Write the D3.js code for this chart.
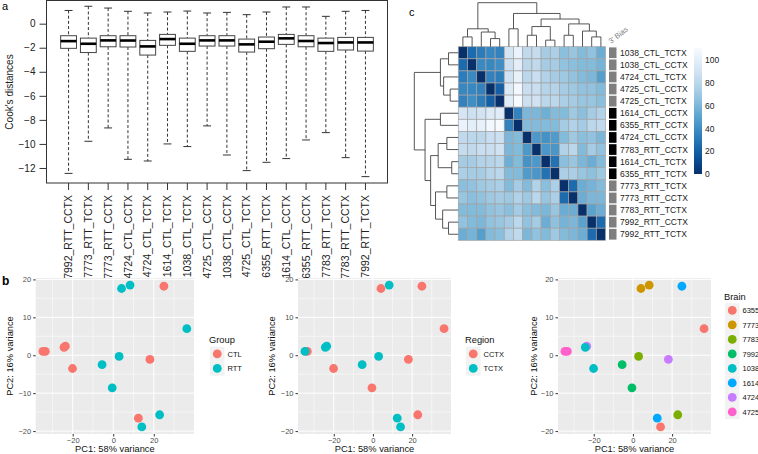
<!DOCTYPE html>
<html><head><meta charset="utf-8">
<script src="https://cdn.jsdelivr.net/npm/d3@7"></script>
<style>body{margin:0;background:#fff} svg{display:block}</style>
</head><body><svg id="c" width="758" height="454"></svg>
<script>
// ---------------- DATA ----------------
// Panel a: Cook's distances box plots (log scale values)
const boxSamples = ["7992_RTT_CCTX","7773_RTT_TCTX","7773_RTT_CCTX","4724_CTL_CCTX","4724_CTL_TCTX","1614_CTL_TCTX","1038_CTL_TCTX","4725_CTL_CCTX","1038_CTL_CCTX","4725_CTL_TCTX","6355_RTT_TCTX","1614_CTL_CCTX","6355_RTT_CCTX","7783_RTT_TCTX","7783_RTT_CCTX","7992_RTT_TCTX"];
const boxUpper  = [1.10,1.45,1.30,1.03,0.89,0.97,1.05,0.89,0.94,0.75,0.97,1.39,1.39,0.61,1.03,1.10];
const boxQ3     = [-1.00,-1.20,-1.00,-1.00,-1.39,-0.89,-1.20,-1.00,-1.00,-1.28,-1.11,-0.89,-1.00,-1.20,-1.14,-1.14];
const boxMedian = [-1.45,-1.67,-1.39,-1.40,-1.89,-1.28,-1.67,-1.39,-1.39,-1.72,-1.50,-1.22,-1.44,-1.61,-1.56,-1.56];
const boxQ1     = [-2.05,-2.40,-1.92,-1.94,-2.61,-1.80,-2.30,-1.86,-1.86,-2.36,-2.08,-1.72,-1.92,-2.30,-2.19,-2.28];
const boxLower  = [-12.45,-9.78,-8.67,-11.28,-11.42,-10.00,-10.22,-8.50,-10.92,-12.22,-11.53,-11.22,-9.67,-9.06,-11.14,-12.72];
const yTicksA = [0,-2,-4,-6,-8,-10,-12];

// Panel c: sample distance heatmap
const heatSamples = ["1038_CTL_TCTX","1038_CTL_CCTX","4724_CTL_TCTX","4725_CTL_CCTX","4725_CTL_TCTX","1614_CTL_CCTX","6355_RTT_CCTX","4724_CTL_CCTX","7783_RTT_CCTX","1614_CTL_TCTX","6355_RTT_TCTX","7773_RTT_TCTX","7773_RTT_CCTX","7783_RTT_TCTX","7992_RTT_CCTX","7992_RTT_TCTX"];
const heatBias = ["mid","mid","mid","mid","mid","high","high","high","high","high","high","mid","mid","mid","mid","mid"];
const distMatrix = [
 [0,25,32,37,35,92,104,82,84,72,74,64,68,62,66,55],
 [25,0,38,37,40,88,100,80,82,72,72,66,64,62,62,58],
 [32,38,0,35,33,90,102,80,86,76,72,70,66,62,60,48],
 [37,37,35,0,20,96,108,86,86,78,78,72,70,66,66,62],
 [35,40,33,20,0,98,111,88,90,80,80,74,72,68,68,64],
 [92,88,90,96,98,0,35,60,60,56,62,62,70,64,72,76],
 [104,100,102,108,111,35,0,62,62,62,62,72,76,72,80,82],
 [82,80,80,86,88,60,62,0,45,42,46,62,70,64,66,60],
 [84,82,86,86,90,60,62,45,0,45,44,76,80,62,72,66],
 [72,72,76,78,80,56,62,42,45,0,28,64,68,60,55,62],
 [74,72,72,78,80,62,62,46,44,28,0,74,74,68,65,70],
 [64,66,70,72,74,62,72,62,76,64,74,0,25,55,58,62],
 [68,64,66,70,72,70,76,70,80,68,74,25,0,55,60,60],
 [62,62,62,66,68,64,72,64,62,60,68,55,55,0,50,55],
 [66,62,60,66,68,72,80,66,72,55,65,58,60,50,0,25],
 [55,58,48,62,64,76,82,60,66,62,70,62,60,55,25,0]
];
// hierarchical clustering merges (negative = leaf index, 1-based in heatmap order; positive = earlier merge), height
const treeMerges = [
 [-4,-5,8.3],[-1,-2,10],[-3,1,15],[2,3,18.3],
 [-10,-11,6.7],[-8,-9,11.7],[6,5,20.6],
 [-12,-13,11.7],[-15,-16,10],[-14,9,16],[8,10,23.3],
 [7,11,28.3],[-6,-7,18.3],[13,12,34],[4,14,45]
];
const legendTicks = [0,20,40,60,80,100];

// Panel b: PCA
const pcaSamples = ["1038_CTL_CCTX","4724_CTL_TCTX","1038_CTL_TCTX","4724_CTL_CCTX","1614_CTL_CCTX","1614_CTL_TCTX","4725_CTL_CCTX","4725_CTL_TCTX","6355_RTT_CCTX","6355_RTT_TCTX","7773_RTT_CCTX","7773_RTT_TCTX","7783_RTT_CCTX","7783_RTT_TCTX","7992_RTT_CCTX","7992_RTT_TCTX"];
const pcaPC1 = [-20.1,-23.6,-24.3,18.1,25.0,12.4,-33.5,-34.7,36.3,14.1,4.1,8.3,22.9,2.9,-0.5,-5.5];
const pcaPC2 = [-3.5,2.4,2.1,-1.1,18.2,-16.6,1.0,1.0,7.0,-18.9,17.6,18.5,-15.7,-0.3,-8.6,-2.5];
const groupLevels = ["CTL","RTT"];
const regionLevels = ["CCTX","TCTX"];
const brainLevels = ["6355","7773","7783","7992","1038","1614","4724","4725"];
const twoColors = ["#F8766D","#00BFC4"];
const brainColors = ["#F8766D","#CD9600","#7CAE00","#00BE67","#00BFC4","#00A9FF","#C77CFF","#FF61CC"];
const pcaXTicks = [-20,0,20], pcaXMinor = [-30,-10,10,30];
const pcaYTicks = [-20,-10,0,10,20], pcaYMinor = [-15,-5,5,15];

// ---------------- DRAW ----------------
const FONT = '"Liberation Sans", Arial, Helvetica, sans-serif';
const svg = d3.select("#c").style("font-family", FONT);

// panel labels
svg.append("text").attr("x",2).attr("y",10).attr("font-size",11).text("a");
svg.append("text").attr("x",2).attr("y",285).attr("font-size",12).attr("font-weight","bold").text("b");
svg.append("text").attr("x",409).attr("y",16).attr("font-size",11).text("c");

// ---- Panel a ----
(function(){
  const xA = d3.scaleLinear().domain([-0.14, 17.14]).range([46, 388]);
  const yA = d3.scaleLinear().domain([-13.25, 1.97]).range([183, 0]);
  const g = svg.append("g");
  const step = xA(1)-xA(0), hw = 0.4*step, sw = 0.2*step;
  boxSamples.forEach((s,i)=>{
    const cx = xA(i+1);
    const dash = "3,2.2";
    g.append("line").attr("x1",cx).attr("x2",cx).attr("y1",yA(boxUpper[i])).attr("y2",yA(boxQ3[i])).attr("stroke","#333").attr("stroke-dasharray",dash);
    g.append("line").attr("x1",cx).attr("x2",cx).attr("y1",yA(boxQ1[i])).attr("y2",yA(boxLower[i])).attr("stroke","#333").attr("stroke-dasharray",dash);
    g.append("line").attr("x1",cx-sw).attr("x2",cx+sw).attr("y1",yA(boxUpper[i])).attr("y2",yA(boxUpper[i])).attr("stroke","#333");
    g.append("line").attr("x1",cx-sw).attr("x2",cx+sw).attr("y1",yA(boxLower[i])).attr("y2",yA(boxLower[i])).attr("stroke","#333");
    g.append("rect").attr("x",cx-hw).attr("y",yA(boxQ3[i])).attr("width",2*hw).attr("height",yA(boxQ1[i])-yA(boxQ3[i])).attr("fill","#fff").attr("stroke","#444");
    g.append("line").attr("x1",cx-hw).attr("x2",cx+hw).attr("y1",yA(boxMedian[i])).attr("y2",yA(boxMedian[i])).attr("stroke","#000").attr("stroke-width",2.6);
  });
  g.append("rect").attr("x",46.5).attr("y",0.5).attr("width",341).attr("height",182.5).attr("fill","none").attr("stroke","#333");
  const ay = g.append("g").attr("transform","translate(46.5,0)").call(d3.axisLeft(yA).tickValues(yTicksA).tickSize(7).tickPadding(4));
  ay.select(".domain").remove();
  ay.selectAll("line").attr("stroke","#333");
  ay.selectAll("text").attr("font-size",10).attr("font-family",FONT).attr("fill","#222");
  const ax = g.append("g").attr("transform","translate(0,183)");
  boxSamples.forEach((s,i)=>{
    const cx = xA(i+1);
    ax.append("line").attr("x1",cx).attr("x2",cx).attr("y1",0).attr("y2",7).attr("stroke","#333");
    ax.append("text").attr("transform",`translate(${cx},${12}) rotate(-90)`).attr("dy","0.35em").attr("text-anchor","end").attr("font-size",10.5).attr("fill","#222").text(s);
  });
  g.append("text").attr("transform","translate(12.5,92) rotate(-90)").attr("text-anchor","middle").attr("font-size",10).attr("fill","#222").text("Cook's distances");
})();

// ---- Panel c ----
(function(){
  const n = heatSamples.length;
  const left = 458.3, top = 46.7, cw = 9.2, ch = 12.1;
  const xH = d3.scaleLinear().domain([0,n]).range([left, left+n*cw]);
  const yH = d3.scaleLinear().domain([0,n]).range([top, top+n*ch]);
  const maxD = d3.max(distMatrix.flat());
  const color = d3.scaleSequential(t=>d3.interpolateBlues(1-t)).domain([0, maxD]);
  const g = svg.append("g");
  distMatrix.forEach((row,r)=>row.forEach((v,c)=>{
    g.append("rect").attr("x",xH(c)).attr("y",yH(r)).attr("width",cw).attr("height",ch)
      .attr("fill",color(v)).attr("stroke","#a3a3a3").attr("stroke-width",0.7);
  }));
  // annotation column
  const biasColor = {mid:"#7f7f7f", high:"#000000"};
  heatBias.forEach((b,r)=>{
    g.append("rect").attr("x",609).attr("y",yH(r)+0.7).attr("width",7.5).attr("height",ch-1.4).attr("fill",biasColor[b]);
  });
  g.append("text").attr("transform","translate(611,44) rotate(-38)").attr("font-size",7.5).attr("fill","#808080").text("3' Bias");
  heatSamples.forEach((s,r)=>{
    g.append("text").attr("x",620).attr("y",yH(r+0.5)).attr("dy","0.35em").attr("font-size",8.5).attr("fill","#222").text(s);
  });
  // dendrograms
  const hScale = d3.scaleLinear().domain([0,45]).range([0,44]);
  const nodes = [];
  const info = id => id<0 ? {p:-id-1, h:0} : nodes[id-1];
  treeMerges.forEach(([a,b,h])=>{ const A=info(a), B=info(b); nodes.push({p:(A.p+B.p)/2, h, A, B}); });
  const dg = g.append("g").attr("fill","none").attr("stroke","#444").attr("stroke-width",0.9);
  nodes.forEach(nd=>{
    const cA = xH(nd.A.p+0.5), cB = xH(nd.B.p+0.5);
    const yN = top - hScale(nd.h);
    dg.append("path").attr("d",`M${cA},${top-hScale(nd.A.h)}V${yN}H${cB}V${top-hScale(nd.B.h)}`);
    const rA = yH(nd.A.p+0.5), rB = yH(nd.B.p+0.5);
    const xN = left - hScale(nd.h);
    dg.append("path").attr("d",`M${left-hScale(nd.A.h)},${rA}H${xN}V${rB}H${left-hScale(nd.B.h)}`);
  });
  // color legend
  const lg = svg.append("g");
  const ly = d3.scaleLinear().domain([0, maxD]).range([174, 48]);
  const defs = svg.append("defs");
  const grad = defs.append("linearGradient").attr("id","gb").attr("x1",0).attr("y1",1).attr("x2",0).attr("y2",0);
  d3.range(0,1.0001,0.1).forEach(t=>grad.append("stop").attr("offset",t).attr("stop-color",color(t*maxD)));
  lg.append("rect").attr("x",694).attr("y",48).attr("width",8).attr("height",126).attr("fill","url(#gb)");
  legendTicks.forEach(v=>{
    lg.append("text").attr("x",705).attr("y",ly(v)).attr("dy","0.35em").attr("font-size",8.5).attr("fill","#222").text(v);
  });
})();

// ---- Panel b ----
function pcaPlot(x0, x1, levels, colors, levelOf, title, legX, yTitleX){
  const top = 278, bottom = 434;
  const ex = d3.extent(pcaPC1), ey = d3.extent(pcaPC2);
  const px = (ex[1]-ex[0])*0.05, py = (ey[1]-ey[0])*0.05;
  const xs = d3.scaleLinear().domain([ex[0]-px, ex[1]+px]).range([x0, x1]);
  const ys = d3.scaleLinear().domain([ey[0]-py, ey[1]+py]).range([bottom, top]);
  const g = svg.append("g");
  g.append("rect").attr("x",x0).attr("y",top).attr("width",x1-x0).attr("height",bottom-top).attr("fill","#EBEBEB");
  pcaXMinor.forEach(v=>g.append("line").attr("x1",xs(v)).attr("x2",xs(v)).attr("y1",top).attr("y2",bottom).attr("stroke","#fff").attr("stroke-width",0.5));
  pcaYMinor.forEach(v=>g.append("line").attr("y1",ys(v)).attr("y2",ys(v)).attr("x1",x0).attr("x2",x1).attr("stroke","#fff").attr("stroke-width",0.5));
  pcaXTicks.forEach(v=>g.append("line").attr("x1",xs(v)).attr("x2",xs(v)).attr("y1",top).attr("y2",bottom).attr("stroke","#fff").attr("stroke-width",1));
  pcaYTicks.forEach(v=>g.append("line").attr("y1",ys(v)).attr("y2",ys(v)).attr("x1",x0).attr("x2",x1).attr("stroke","#fff").attr("stroke-width",1));
  const axY = g.append("g").attr("transform",`translate(${x0},0)`).call(d3.axisLeft(ys).tickValues(pcaYTicks).tickSize(2.5).tickPadding(2).tickFormat(d3.format("d")));
  const axX = g.append("g").attr("transform",`translate(0,${bottom})`).call(d3.axisBottom(xs).tickValues(pcaXTicks).tickSize(2.5).tickPadding(1.5).tickFormat(d3.format("d")));
  [axX,axY].forEach(a=>{a.select(".domain").remove(); a.selectAll("line").attr("stroke","#333");
    a.selectAll("text").attr("font-size",7.5).attr("font-family",FONT).attr("fill","#4D4D4D");});
  pcaSamples.forEach((s,i)=>{
    g.append("circle").attr("cx",xs(pcaPC1[i])).attr("cy",ys(pcaPC2[i])).attr("r",4.4).attr("fill",colors[levels.indexOf(levelOf(s))]);
  });
  g.append("text").attr("x",(x0+x1)/2).attr("y",452).attr("text-anchor","middle").attr("font-size",9.3).attr("fill","#111").text("PC1: 58% variance");
  g.append("text").attr("transform",`translate(${yTitleX},${(top+bottom)/2}) rotate(-90)`).attr("text-anchor","middle").attr("font-size",9.3).attr("fill","#111").text("PC2: 16% variance");
  // legend
  const n = levels.length, kh = 14.5;
  const ky0 = 361.2 - (n-1)*kh/2;
  g.append("text").attr("x",legX).attr("y",ky0-10.8).attr("font-size",9.3).attr("fill","#111").text(title);
  levels.forEach((lv,j)=>{
    const cy = ky0 + j*kh;
    g.append("rect").attr("x",legX+1).attr("y",cy-kh/2).attr("width",kh).attr("height",kh).attr("fill","#F2F2F2");
    g.append("circle").attr("cx",legX+1+kh/2).attr("cy",cy).attr("r",4.4).attr("fill",colors[j]);
    g.append("text").attr("x",legX+kh+4).attr("y",cy).attr("dy","0.35em").attr("font-size",7.5).attr("fill","#111").text(lv);
  });
}
pcaPlot(35.7, 194, groupLevels, twoColors, s=>s.split("_")[1], "Group", 209, 13);
pcaPlot(298, 451, regionLevels, twoColors, s=>s.split("_")[2], "Region", 465, 275);
pcaPlot(558, 711, brainLevels, brainColors, s=>s.split("_")[0], "Brain", 724, 537);
</script></body></html>
